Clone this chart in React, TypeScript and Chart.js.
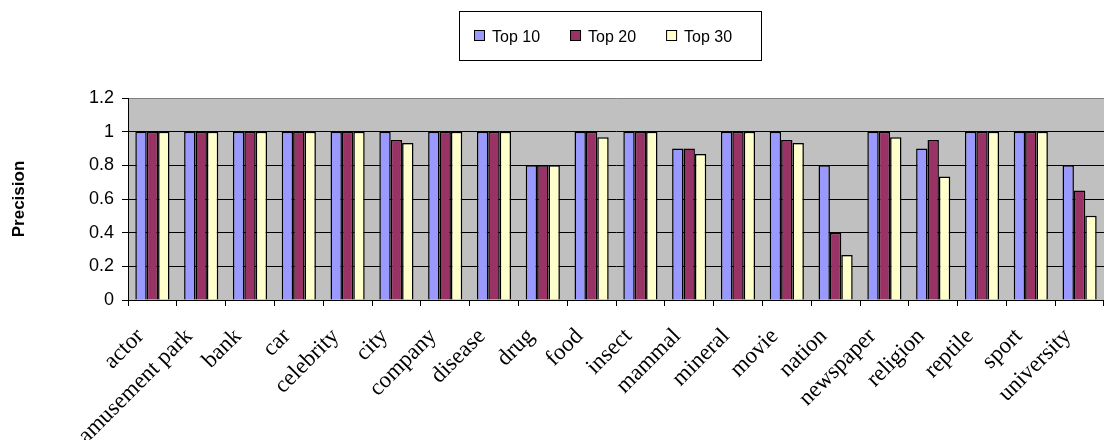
import { useEffect, useRef } from "react";
import { Chart, registerables } from "chart.js";

Chart.register(...registerables);

// Categories along the x axis
const categories = [
  "actor",
  "amusement park",
  "bank",
  "car",
  "celebrity",
  "city",
  "company",
  "disease",
  "drug",
  "food",
  "insect",
  "mammal",
  "mineral",
  "movie",
  "nation",
  "newspaper",
  "religion",
  "reptile",
  "sport",
  "university",
];

// Precision of the top-k results per category
const top10 = [1, 1, 1, 1, 1, 1, 1, 1, 0.8, 1, 1, 0.9, 1, 1, 0.8, 1, 0.9, 1, 1, 0.8];
const top20 = [1, 1, 1, 1, 1, 0.95, 1, 1, 0.8, 1, 1, 0.9, 1, 0.95, 0.4, 1, 0.95, 1, 1, 0.65];
const top30 = [1, 1, 1, 1, 1, 0.933, 1, 1, 0.8, 0.967, 1, 0.867, 1, 0.933, 0.267, 0.967, 0.733, 1, 1, 0.5];

const seriesNames = ["Top 10", "Top 20", "Top 30"];
const seriesColors = ["#9999FF", "#993366", "#FFFFCC"];

const yTickValues = [0, 0.2, 0.4, 0.6, 0.8, 1, 1.2];
const yTickLabels = ["0", "0.2", "0.4", "0.6", "0.8", "1", "1.2"];
const yAxisTitle = "Precision";

const SANS = "'Liberation Sans', Arial, sans-serif";
const SERIF = "'Liberation Serif', 'Times New Roman', serif";

// Grey plot-area fill behind grid and bars
const plotBackground = {
  id: "plotBackground",
  beforeDraw(chart: any) {
    const { ctx, chartArea: a } = chart;
    ctx.save();
    ctx.fillStyle = "#C0C0C0";
    ctx.fillRect(a.left, a.top, a.right - a.left, a.bottom - a.top);
    ctx.restore();
  },
};

// Framed legend row above the plot
const boxedLegend = {
  id: "boxedLegend",
  afterDraw(chart: any) {
    const ctx = chart.ctx;
    const frame = { x: 459.5, y: 11.5, w: 302, h: 49 };
    ctx.save();
    ctx.lineWidth = 1;
    ctx.strokeStyle = "#000";
    ctx.strokeRect(frame.x, frame.y, frame.w, frame.h);
    ctx.font = `16px ${SANS}`;
    ctx.textBaseline = "alphabetic";
    ctx.textAlign = "left";
    let x = 474;
    chart.data.datasets.forEach((ds: any) => {
      ctx.fillStyle = ds.backgroundColor;
      ctx.fillRect(x + 0.5, 30.5, 10, 10);
      ctx.strokeRect(x + 0.5, 30.5, 10, 10);
      ctx.fillStyle = "#000";
      ctx.fillText(ds.label, x + 18, 41.5);
      x += 18 + ctx.measureText(ds.label).width + 30;
    });
    ctx.restore();
  },
};

export default function App() {
  const ref = useRef<HTMLCanvasElement>(null);

  useEffect(() => {
    const series = [top10, top20, top30];
    const chart = new Chart(ref.current as HTMLCanvasElement, {
      type: "bar",
      data: {
        labels: categories,
        datasets: series.map((values, i) => ({
          label: seriesNames[i],
          data: values,
          backgroundColor: seriesColors[i],
          borderColor: "#000",
          borderWidth: 1.5,
          categoryPercentage: 0.7,
          barPercentage: 1,
        })),
      },
      options: {
        animation: false,
        responsive: false,
        devicePixelRatio: 1,
        layout: { padding: { top: 98, left: 0, right: 0, bottom: 0 } },
        plugins: {
          legend: { display: false },
          tooltip: { enabled: false },
        },
        scales: {
          x: {
            grid: {
              offset: true,
              drawOnChartArea: false,
              drawTicks: true,
              tickLength: 6,
              color: "#000",
            },
            border: { color: "#000", width: 1 },
            ticks: {
              autoSkip: false,
              minRotation: 45,
              maxRotation: 45,
              color: "#000",
              padding: 17,
              labelOffset: -12,
              font: { family: SERIF, size: 23 },
            },
            afterFit(scale: any) {
              scale.height = 140;
              scale.paddingLeft = 0;
              scale.paddingRight = 0;
            },
          },
          y: {
            min: 0,
            max: 1.2,
            afterBuildTicks(scale: any) {
              scale.ticks = yTickValues.map((v) => ({ value: v }));
            },
            ticks: {
              color: "#000",
              padding: 8,
              font: { family: SANS, size: 18 },
              callback: (_v: any, i: number) => yTickLabels[i],
            },
            grid: {
              color: (c: any) => (c.tick && c.tick.value === 1.2 ? "#808080" : "#000"),
              tickColor: "#000",
              tickLength: 6,
              lineWidth: 1,
            },
            border: { color: "#000", width: 1 },
            title: {
              display: true,
              text: yAxisTitle,
              color: "#000",
              font: { family: SANS, size: 17, weight: "bold" },
              padding: { top: 9, bottom: 0 },
            },
            afterFit(scale: any) {
              scale.width = 128;
            },
          },
        },
      },
      plugins: [plotBackground, boxedLegend],
    } as any);
    return () => chart.destroy();
  }, []);

  return (
    <div style={{ position: "absolute", left: 0, top: 0, width: 1104, height: 440, background: "#fff" }}>
      <canvas ref={ref} width={1104} height={440} style={{ display: "block" }} />
    </div>
  );
}
